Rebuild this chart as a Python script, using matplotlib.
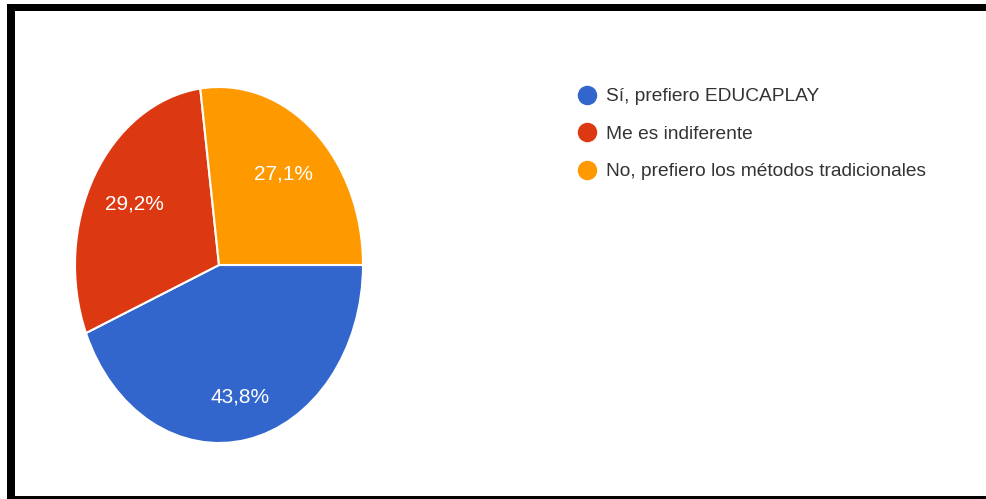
import matplotlib.pyplot as plt
from matplotlib.lines import Line2D
from matplotlib.patches import Rectangle

# respuestas de la encuesta
labels = ["Sí, prefiero EDUCAPLAY", "Me es indiferente", "No, prefiero los métodos tradicionales"]
values = [43.8, 29.2, 27.1]
colors = ["#3366CC", "#DC3912", "#FF9900"]

plt.rcParams['font.family'] = ['Liberation Sans', 'DejaVu Sans']

W, H = 986, 499
fig = plt.figure(figsize=(W / 100, H / 100), dpi=100)
fig.patch.set_facecolor("white")

# el pastel ocupa una elipse (más alto que ancho)
px0, py0, px1, py1 = 75, 87, 363, 443
ax = fig.add_axes([px0 / W, 1 - py1 / H, (px1 - px0) / W, (py1 - py0) / H])

wedges, texts, autotexts = ax.pie(
    values, colors=colors, startangle=0, counterclock=False,
    autopct=lambda p: ("%.1f%%" % p).replace(".", ","),
    pctdistance=0.68,
    wedgeprops=dict(edgecolor="white", linewidth=1.5),
    textprops=dict(color="white", fontsize=15),
)
ax.set_aspect("auto")
ax.set_xlim(-1, 1)
ax.set_ylim(-1, 1)

# la etiqueta del sector grande va algo más afuera
x, y = autotexts[0].get_position()
autotexts[0].set_position((x * 1.11, y * 1.11))

handles = [Line2D([], [], marker="o", linestyle="none", markersize=13,
                  markerfacecolor=c, markeredgecolor=c) for c in colors]
fig.legend(handles, labels, loc="upper left",
           bbox_to_anchor=(579 / W, 1 - 88 / H),
           frameon=False, fontsize=13.8, labelcolor="#333333",
           handlelength=0.8, handletextpad=0.6, labelspacing=1.05,
           borderpad=0, borderaxespad=0)

# marco negro
fig.add_artist(Rectangle((7 / W, 0), 8 / W, 1 - 4 / H, transform=fig.transFigure,
                         color="black", lw=0))
fig.add_artist(Rectangle((7 / W, 1 - 11 / H), 1, 7 / H, transform=fig.transFigure,
                         color="black", lw=0))
fig.add_artist(Rectangle((15 / W, 0), 1, 3 / H, transform=fig.transFigure,
                         color="black", lw=0))

fig.savefig("out.png", dpi=100)
